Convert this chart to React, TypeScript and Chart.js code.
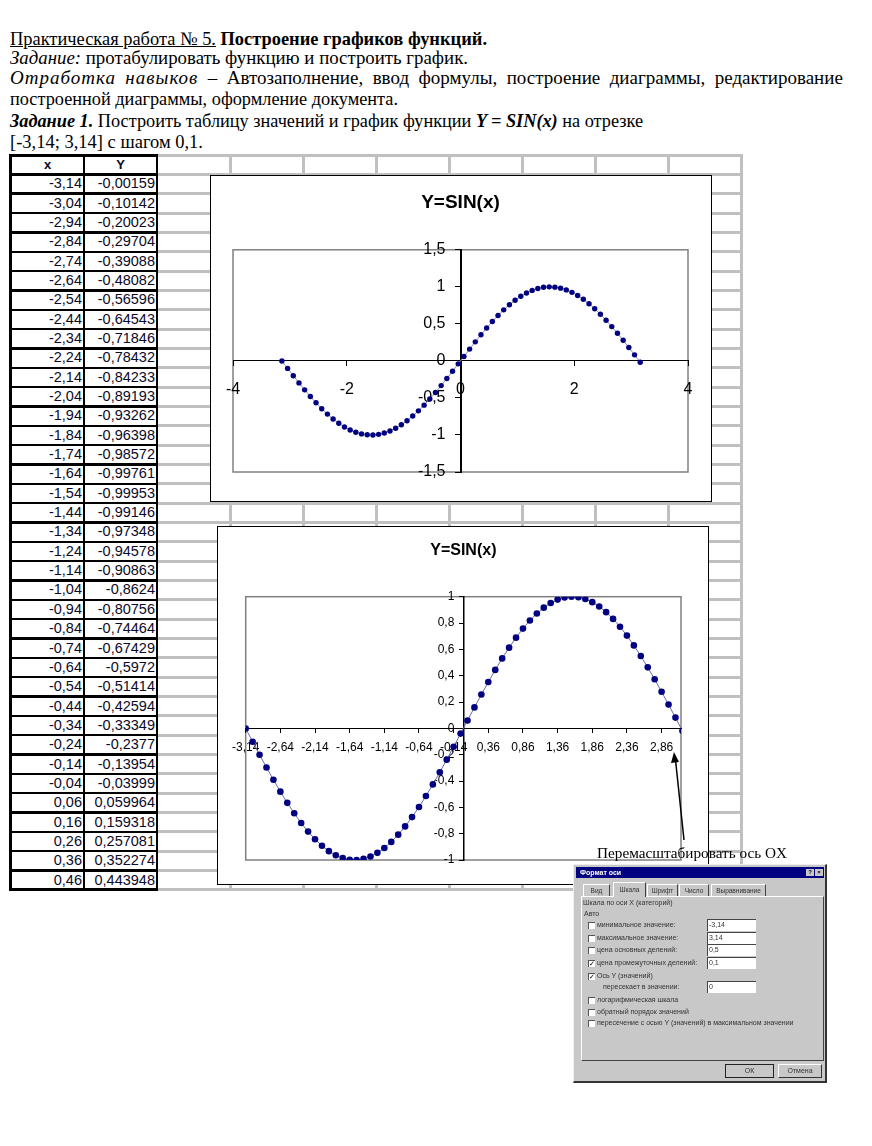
import React, { useEffect, useLayoutEffect, useRef } from "react";
import { Chart, registerables } from "chart.js";
Chart.register(...registerables);

// ---------- data ----------
const xValues = [
  -3.14, -3.04, -2.94, -2.84, -2.74, -2.64, -2.54, -2.44, -2.34, -2.24, -2.14, -2.04, -1.94, -1.84, -1.74, -1.64,
  -1.54, -1.44, -1.34, -1.24, -1.14, -1.04, -0.94, -0.84, -0.74, -0.64, -0.54, -0.44, -0.34, -0.24, -0.14, -0.04,
  0.06, 0.16, 0.26, 0.36, 0.46, 0.56, 0.66, 0.76, 0.86, 0.96, 1.06, 1.16, 1.26, 1.36, 1.46, 1.56,
  1.66, 1.76, 1.86, 1.96, 2.06, 2.16, 2.26, 2.36, 2.46, 2.56, 2.66, 2.76, 2.86, 2.96, 3.06, 3.16,
];
const yValues = [
  -0.00159, -0.10142, -0.20023, -0.29704, -0.39088, -0.48082, -0.56596, -0.64543, -0.71846, -0.78432, -0.84233,
  -0.89193, -0.93262, -0.96398, -0.98572, -0.99761, -0.99953, -0.99146, -0.97348, -0.94578, -0.90863, -0.8624,
  -0.80756, -0.74464, -0.67429, -0.5972, -0.51414, -0.42594, -0.33349, -0.2377, -0.13954, -0.03999,
  0.059964, 0.159318, 0.257081, 0.352274, 0.443948, 0.531186, 0.613117, 0.688921, 0.757843, 0.819192, 0.872355,
  0.916803, 0.95209, 0.977865, 0.993868, 0.999942, 0.996024, 0.982154, 0.958471, 0.925212, 0.882707, 0.831383,
  0.771753, 0.704411, 0.630031, 0.549355, 0.463191, 0.372399, 0.277886, 0.180596, 0.081499, -0.018406,
];
const tableRowCount = 37;
const tableHeaders = ["x", "Y"];

const chartTitle = "Y=SIN(x)";
const chart1XTicks = [-4, -2, 0, 2, 4];
const chart1YTicks = [-1.5, -1, -0.5, 0, 0.5, 1, 1.5];
const chart2XTicks = [-3.14, -2.64, -2.14, -1.64, -1.14, -0.64, -0.14, 0.36, 0.86, 1.36, 1.86, 2.36, 2.86];
const chart2YTicks = [-1, -0.8, -0.6, -0.4, -0.2, 0, 0.2, 0.4, 0.6, 0.8, 1];

const SERIF = "'Liberation Serif', 'Times New Roman', serif";
const SANS = "'Liberation Sans', Arial, sans-serif";

const fmt = (v: number) => String(Math.round(v * 100) / 100).replace(".", ",");
const fmtCell = (v: number) => String(v).replace(".", ",");

const plotBorder = {
  id: "plotBorder",
  beforeDraw(chart: any, _a: any, opts: any) {
    const { ctx, chartArea: a } = chart;
    ctx.save();
    ctx.strokeStyle = opts.color || "#808080";
    ctx.lineWidth = opts.width || 1.5;
    ctx.strokeRect(a.left, a.top, a.right - a.left, a.bottom - a.top);
    ctx.restore();
  },
};

function axis(kind: "x" | "y", min: number, max: number, ticksArr: number[], fontSize: number, pad: number, tl: number, bw: number) {
  return {
    type: "linear",
    min,
    max,
    position: kind === "x" ? { y: 0 } : { x: 0 },
    z: 1,
    afterFit: (s: any) => {
      if (kind === "x") s.height = 0;
      else s.width = 0;
      s.paddingLeft = 0;
      s.paddingRight = 0;
      s.paddingTop = 0;
      s.paddingBottom = 0;
    },
    afterUpdate: (s: any) => {
      // labels of an axis crossing at x = 0 sit left of the tick marks
      if (kind === "y" && !s.__shifted && typeof s._computeLabelItems === "function") {
        const orig = s._computeLabelItems.bind(s);
        s._computeLabelItems = (ca: any) =>
          orig(ca).map((it: any) => {
            if (it.options && it.options.translation) it.options.translation[0] -= tl + pad;
            return it;
          });
        s.__shifted = true;
      }
    },
    afterBuildTicks: (s: any) => {
      s.ticks = ticksArr.map((v) => ({ value: v }));
    },
    border: { display: true, color: "#000", width: bw },
    grid: { display: true, drawOnChartArea: false, drawTicks: true, tickLength: tl, tickWidth: 1, tickColor: "#000", color: "#000" },
    ticks: {
      autoSkip: false,
      maxRotation: 0,
      padding: pad,
      color: "#000",
      font: { family: SANS, size: fontSize },
      callback: (v: any) => fmt(Number(v)),
    },
  };
}

function makeConfig(which: 1 | 2): any {
  const pts = xValues.map((x, i) => ({ x, y: yValues[i] }));
  const big = which === 1;
  return {
    type: "scatter",
    data: {
      datasets: [
        {
          data: pts,
          showLine: true,
          borderColor: big ? "#8a8ab8" : "#6a6aa6",
          borderWidth: 1,
          pointRadius: big ? 2.7 : 3.3,
          pointBackgroundColor: "#000080",
          pointBorderColor: "#000080",
          pointBorderWidth: 0,
        },
      ],
    },
    options: {
      responsive: false,
      animation: false,
      events: [],
      devicePixelRatio: 1,
      layout: big ? { padding: { left: 22, right: 22, top: 0, bottom: 28 } } : { padding: { left: 27.7, right: 26, top: 0, bottom: 23 } },
      scales: big
        ? { x: axis("x", -4, 4, chart1XTicks, 16, 14, 5, 1), y: axis("y", -1.5, 1.5, chart1YTicks, 16, 10, 5, 2) }
        : { x: axis("x", -3.14, 3.14, chart2XTicks, 12, 8, 4, 1), y: axis("y", -1, 1, chart2YTicks, 12, 5, 4, 1.5) },
      plugins: {
        legend: { display: false },
        tooltip: { enabled: false },
        plotBorder: { color: "#808080", width: 1.5 },
        title: {
          display: true,
          text: chartTitle,
          color: "#000",
          font: { family: SANS, size: big ? 19 : 16, weight: "bold" },
          padding: big ? { top: 15, bottom: 36 } : { top: 14, bottom: 36.5 },
        },
      },
    },
    plugins: [plotBorder],
  };
}

function ChartCanvas({ which, left, top, width, height }: any) {
  const ref = useRef<HTMLCanvasElement>(null);
  useEffect(() => {
    const c = new Chart(ref.current as HTMLCanvasElement, makeConfig(which));
    return () => c.destroy();
  }, []);
  return (
    <div style={{ position: "absolute", left, top, width, height, background: "#fff", border: "1.5px solid #000", boxSizing: "border-box" }}>
      <canvas ref={ref} width={width - 3} height={height - 3} style={{ display: "block", width: width - 3, height: height - 3 }} />
    </div>
  );
}

function FitText({ left, top, width, style, children }: any) {
  const ref = useRef<HTMLDivElement>(null);
  useLayoutEffect(() => {
    const el = ref.current as HTMLDivElement;
    el.style.transform = "none";
    const w = el.getBoundingClientRect().width;
    if (w > 0) el.style.transform = `scaleX(${width / w})`;
  }, []);
  return (
    <div ref={ref} style={{ position: "absolute", left, top, whiteSpace: "nowrap", transformOrigin: "0 0", ...style }}>
      {children}
    </div>
  );
}

const ROW_TOP = 155;
const ROW_H = 19.34;
const gridCols = [230, 303, 376, 449, 522, 595, 668, 741];

function Grid() {
  const els: any[] = [];
  for (let k = 0; k <= tableRowCount + 1; k++) {
    const y = ROW_TOP + k * ROW_H;
    els.push(<div key={"h" + k} style={{ position: "absolute", left: 157, top: y - 1.5, width: 586, height: 3, background: "#c0c0c0" }} />);
  }
  gridCols.forEach((x) =>
    els.push(
      <div key={"v" + x} style={{ position: "absolute", left: x - 1.5, top: ROW_TOP - 1.5, width: 3, height: (tableRowCount + 1) * ROW_H + 3, background: "#c0c0c0" }} />
    )
  );
  return <>{els}</>;
}

function Table() {
  const els: any[] = [];
  const bottom = ROW_TOP + (tableRowCount + 1) * ROW_H;
  for (let k = 0; k <= tableRowCount + 1; k++) {
    const y = ROW_TOP + k * ROW_H;
    const th = k === 0 || k === tableRowCount + 1 ? 3 : 2.4;
    els.push(<div key={"th" + k} style={{ position: "absolute", left: 9, top: y - th / 2, width: 149, height: th, background: "#000" }} />);
  }
  els.push(<div key="tv1" style={{ position: "absolute", left: 9, top: ROW_TOP - 1.5, width: 3.2, height: bottom - ROW_TOP + 3, background: "#000" }} />);
  els.push(<div key="tv2" style={{ position: "absolute", left: 83, top: ROW_TOP - 1.5, width: 2.4, height: bottom - ROW_TOP + 3, background: "#000" }} />);
  els.push(<div key="tv3" style={{ position: "absolute", left: 156, top: ROW_TOP - 1.5, width: 2.4, height: bottom - ROW_TOP + 3, background: "#000" }} />);
  const cell = { position: "absolute", height: ROW_H, lineHeight: ROW_H + "px", fontFamily: SANS, color: "#0a0a28" } as any;
  els.push(<div key="hx" style={{ ...cell, left: 12, width: 71, top: ROW_TOP, textAlign: "center", fontWeight: "bold", fontSize: 13 }}>{tableHeaders[0]}</div>);
  els.push(<div key="hy" style={{ ...cell, left: 85, width: 71, top: ROW_TOP, textAlign: "center", fontWeight: "bold", fontSize: 13 }}>{tableHeaders[1]}</div>);
  for (let i = 0; i < tableRowCount; i++) {
    const top = ROW_TOP + (i + 1) * ROW_H;
    els.push(<div key={"cx" + i} style={{ ...cell, left: 12, width: 70, top, textAlign: "right", fontSize: 14.5 }}>{fmtCell(xValues[i])}</div>);
    els.push(<div key={"cy" + i} style={{ ...cell, left: 85, width: 70, top, textAlign: "right", fontSize: 14.5 }}>{fmtCell(yValues[i])}</div>);
  }
  return <>{els}</>;
}

function Check({ x, y, checked }: any) {
  return (
    <div style={{ position: "absolute", left: x, top: y - 3.5, width: 7, height: 7, background: "#fff", borderTop: "1px solid #555", borderLeft: "1px solid #555", boxSizing: "border-box", fontSize: 7, lineHeight: "6px", textAlign: "center", color: "#000", fontFamily: SANS }}>
      {checked ? "✓" : ""}
    </div>
  );
}

function DText({ x, y, children, style }: any) {
  return (
    <div style={{ position: "absolute", left: x, top: y - 5, height: 10, lineHeight: "10px", fontSize: 7, fontFamily: SANS, color: "#333", whiteSpace: "nowrap", ...style }}>
      {children}
    </div>
  );
}

function Field({ y, value }: any) {
  return (
    <div style={{ position: "absolute", left: 133, top: y - 6, width: 49, height: 12, background: "#fff", borderTop: "1.5px solid #444", borderLeft: "1.5px solid #444", boxSizing: "border-box", fontSize: 7, lineHeight: "10px", fontFamily: SANS, color: "#333", paddingLeft: 1 }}>
      {value}
    </div>
  );
}

function Dialog() {
  const tabs = [
    { t: "Вид", x: 9, w: 27 },
    { t: "Шкала", x: 39, w: 33, sel: true },
    { t: "Шрифт", x: 73, w: 31 },
    { t: "Число", x: 105, w: 30 },
    { t: "Выравнивание", x: 137, w: 55 },
  ];
  const rows = [
    { y: 60, t: "минимальное значение:", v: "-3,14", c: false },
    { y: 73, t: "максимальное значение:", v: "3,14", c: false },
    { y: 85, t: "цена основных делений:", v: "0,5", c: false },
    { y: 98, t: "цена промежуточных делений:", v: "0,1", c: true },
  ];
  const rows2 = [
    { y: 135, t: "логарифмическая шкала" },
    { y: 147, t: "обратный порядок значений" },
    { y: 158, t: "пересечение с осью Y (значений) в максимальном значении" },
  ];
  return (
    <div style={{ position: "absolute", left: 573, top: 864, width: 254, height: 219, background: "#c8c8c8", borderTop: "1px solid #eee", borderLeft: "1px solid #eee", borderRight: "2px solid #333", borderBottom: "2px solid #333", boxSizing: "border-box" }}>
      <div style={{ position: "absolute", left: 2, top: 2, width: 248, height: 11, background: "#000080" }}>
        <div style={{ position: "absolute", left: 4, top: 0, lineHeight: "11px", fontSize: 7, fontWeight: "bold", color: "#fff", fontFamily: SANS }}>Формат оси</div>
        <div style={{ position: "absolute", left: 230, top: 2, width: 8, height: 7, background: "#c8c8c8", fontSize: 6, lineHeight: "7px", textAlign: "center", fontFamily: SANS, fontWeight: "bold" }}>?</div>
        <div style={{ position: "absolute", left: 239, top: 2, width: 8, height: 7, background: "#c8c8c8", fontSize: 6, lineHeight: "7px", textAlign: "center", fontFamily: SANS, fontWeight: "bold" }}>×</div>
      </div>
      {tabs.map((tb) => (
        <div key={tb.t} style={{ position: "absolute", left: tb.x, top: tb.sel ? 17 : 19, width: tb.w, height: tb.sel ? 15 : 12, borderTop: "1px solid #fff", borderLeft: "1px solid #fff", borderRight: "1.5px solid #444", boxSizing: "border-box", fontSize: 6.5, lineHeight: tb.sel ? "13px" : "11px", textAlign: "center", fontFamily: SANS, color: "#333", background: "#c8c8c8", zIndex: tb.sel ? 2 : 1 }}>
          {tb.t}
        </div>
      ))}
      <div style={{ position: "absolute", left: 7, top: 31, width: 243, height: 165, borderTop: "1px solid #fff", borderLeft: "1px solid #fff", borderRight: "1.5px solid #444", borderBottom: "1.5px solid #444", boxSizing: "border-box" }} />
      <DText x={9} y={38}>Шкала по оси X (категорий)</DText>
      <DText x={10} y={49}>Авто</DText>
      {rows.map((r) => (
        <React.Fragment key={r.t}>
          <Check x={14} y={r.y} checked={r.c} />
          <DText x={23} y={r.y}>{r.t}</DText>
          <Field y={r.y} value={r.v} />
        </React.Fragment>
      ))}
      <Check x={14} y={111} checked={true} />
      <DText x={23} y={111}>Ось Y (значений)</DText>
      <DText x={29} y={122}>пересекает в значении:</DText>
      <Field y={122} value="0" />
      {rows2.map((r) => (
        <React.Fragment key={r.t}>
          <Check x={14} y={r.y} checked={false} />
          <DText x={23} y={r.y}>{r.t}</DText>
        </React.Fragment>
      ))}
      <div style={{ position: "absolute", left: 151, top: 199, width: 49, height: 14, border: "1.5px solid #222", boxSizing: "border-box", fontSize: 7, lineHeight: "11px", textAlign: "center", fontFamily: SANS, color: "#333" }}>ОК</div>
      <div style={{ position: "absolute", left: 204, top: 199, width: 44, height: 14, borderTop: "1px solid #fff", borderLeft: "1px solid #fff", borderRight: "1.5px solid #333", borderBottom: "1.5px solid #333", boxSizing: "border-box", fontSize: 7, lineHeight: "11px", textAlign: "center", fontFamily: SANS, color: "#333" }}>Отмена</div>
    </div>
  );
}

export default function App() {
  const lineStyle = { fontFamily: SERIF, fontSize: 19, lineHeight: "20px", color: "#000" };
  const justWords: [string, boolean][] = [
    ["Отработка", true],
    ["навыков", true],
    ["–", false],
    ["Автозаполнение,", false],
    ["ввод", false],
    ["формулы,", false],
    ["построение", false],
    ["диаграммы,", false],
    ["редактирование", false],
  ];
  return (
    <div style={{ position: "absolute", left: 0, top: 0, width: 872, height: 1146, background: "#fff", overflow: "hidden" }}>
      <FitText left={10} top={29} width={477} style={lineStyle}>
        <span style={{ textDecoration: "underline" }}>Практическая работа № 5.</span> <b>Построение графиков функций.</b>
      </FitText>
      <FitText left={10} top={48} width={458} style={lineStyle}>
        <i>Задание:</i> протабулировать функцию и построить график.
      </FitText>
      <div style={{ position: "absolute", left: 10, top: 68, width: 833, display: "flex", justifyContent: "space-between", ...lineStyle }}>
        {justWords.map(([w, it]) => (
          <span key={w} style={{ fontStyle: it ? "italic" : "normal", letterSpacing: it ? 1 : 0 }}>{w}</span>
        ))}
      </div>
      <FitText left={10} top={89} width={388} style={lineStyle}>
        построенной диаграммы, оформление документа.
      </FitText>
      <FitText left={10} top={111} width={633} style={lineStyle}>
        <b><i>Задание 1.</i></b> Построить таблицу значений и график функции <b><i>Y = SIN(x)</i></b> на отрезке
      </FitText>
      <FitText left={10} top={132} width={193} style={lineStyle}>
        [-3,14; 3,14] с шагом 0,1.
      </FitText>

      <Grid />
      <Table />

      <ChartCanvas which={1} left={210} top={175} width={502} height={327} />
      <ChartCanvas which={2} left={217} top={526} width={492} height={359} />

      <svg width={872} height={1146} style={{ position: "absolute", left: 0, top: 0, pointerEvents: "none" }}>
        <line x1={684} y1={840} x2={675.5} y2={760} stroke="#000" strokeWidth={1.5} />
        <polygon points="674,752 671,763 679,762" fill="#000" />
      </svg>
      <FitText left={597} top={844} width={190} style={{ fontFamily: SERIF, fontSize: 15, lineHeight: "18px", color: "#000" }}>
        Перемасштабировать ось OX
      </FitText>

      <Dialog />
    </div>
  );
}
